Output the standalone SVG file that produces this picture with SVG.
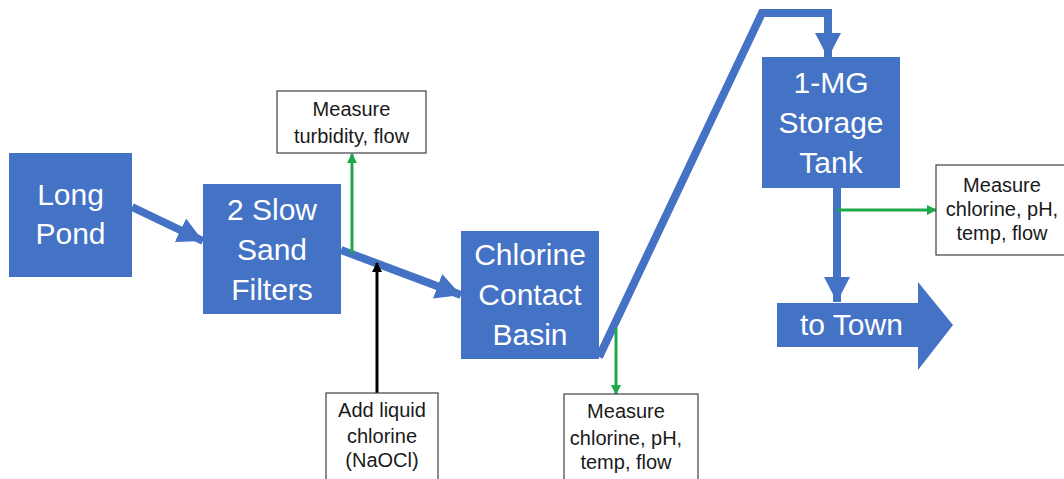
<svg xmlns="http://www.w3.org/2000/svg" width="1064" height="479" viewBox="0 0 1064 479">
<defs>
<style>
.node{fill:#4472C4;}
.nt{font-family:"Liberation Sans",Arial,sans-serif;font-size:30px;fill:#ffffff;text-anchor:middle;}
.box{fill:#ffffff;stroke:#404040;stroke-width:1.2;}
.bt{font-family:"Liberation Sans",Arial,sans-serif;font-size:20px;fill:#1a1a1a;text-anchor:middle;}
.flow{fill:none;stroke:#4472C4;stroke-width:8;stroke-linejoin:miter;marker-end:url(#blueHead);}
.meas{fill:none;stroke:#1DA84A;stroke-width:3;marker-end:url(#greenHead);}
.feed{fill:none;stroke:#000000;stroke-width:3;marker-end:url(#blackHead);}
</style>
<marker id="blueHead" markerUnits="userSpaceOnUse" markerWidth="26" markerHeight="28" refX="25" refY="13" orient="auto" viewBox="0 0 26 26">
<path d="M0,0 L25,13 L0,26 Z" fill="#4472C4"/>
</marker>
<marker id="greenHead" markerUnits="userSpaceOnUse" markerWidth="10" markerHeight="10" refX="9" refY="5" orient="auto" viewBox="0 0 10 10">
<path d="M0,0 L10,5 L0,10 Z" fill="#1DA84A"/>
</marker>
<marker id="blackHead" markerUnits="userSpaceOnUse" markerWidth="10" markerHeight="10" refX="9" refY="5" orient="auto" viewBox="0 0 10 10">
<path d="M0,0 L10,5 L0,10 Z" fill="#000000"/>
</marker>
</defs>
<rect width="1064" height="479" fill="#ffffff"/>

<g id="connectors">
<path class="flow" d="M132,207 L203,241"/>
<path class="flow" d="M341,250 L461,295"/>
<path class="flow" d="M599,357 L762,13 L828,13 L828,58"/>
<path class="flow" d="M837,188 L837,302"/>
<path class="meas" d="M352,254 L352,154"/>
<path class="meas" d="M616,328 L616,394"/>
<path class="meas" d="M837,210 L936,210"/>
<path class="feed" d="M377,393 L377,263"/>
</g>

<g id="long-pond">
<rect class="node" x="9" y="153" width="123" height="124"/>
<text class="nt" x="70.5" y="205">Long</text>
<text class="nt" x="70.5" y="244">Pond</text>
</g>

<g id="slow-sand-filters">
<rect class="node" x="203" y="184" width="138" height="130"/>
<text class="nt" x="272" y="220">2 Slow</text>
<text class="nt" x="272" y="260">Sand</text>
<text class="nt" x="272" y="300">Filters</text>
</g>

<g id="chlorine-contact-basin">
<rect class="node" x="461" y="231" width="138" height="128"/>
<text class="nt" x="530" y="265">Chlorine</text>
<text class="nt" x="530" y="305">Contact</text>
<text class="nt" x="530" y="345">Basin</text>
</g>

<g id="storage-tank">
<rect class="node" x="762" y="57" width="138" height="131"/>
<text class="nt" x="831" y="93">1-MG</text>
<text class="nt" x="831" y="133">Storage</text>
<text class="nt" x="831" y="173">Tank</text>
</g>

<g id="to-town">
<path class="node" d="M777,303 L918,303 L918,282 L953,325 L918,370 L918,347 L777,347 Z"/>
<text class="nt" x="800" y="335" style="text-anchor:start">to Town</text>
</g>

<g id="measure-turbidity">
<rect class="box" x="277" y="91" width="149" height="62"/>
<text class="bt" x="351.5" y="116">Measure</text>
<text class="bt" x="351.5" y="143">turbidity, flow</text>
</g>

<g id="add-chlorine">
<rect class="box" x="326" y="393" width="112" height="90"/>
<text class="bt" x="382" y="417">Add liquid</text>
<text class="bt" x="382" y="443">chlorine</text>
<text class="bt" x="382" y="467">(NaOCl)</text>
</g>

<g id="measure-basin">
<rect class="box" x="564" y="394" width="134" height="90"/>
<text class="bt" x="626" y="418">Measure</text>
<text class="bt" x="626" y="445">chlorine, pH,</text>
<text class="bt" x="626" y="469">temp, flow</text>
</g>

<g id="measure-tank">
<rect class="box" x="936" y="165" width="130" height="90"/>
<text class="bt" x="1002" y="192">Measure</text>
<text class="bt" x="1002" y="216">chlorine, pH,</text>
<text class="bt" x="1002" y="240">temp, flow</text>
</g>
</svg>
